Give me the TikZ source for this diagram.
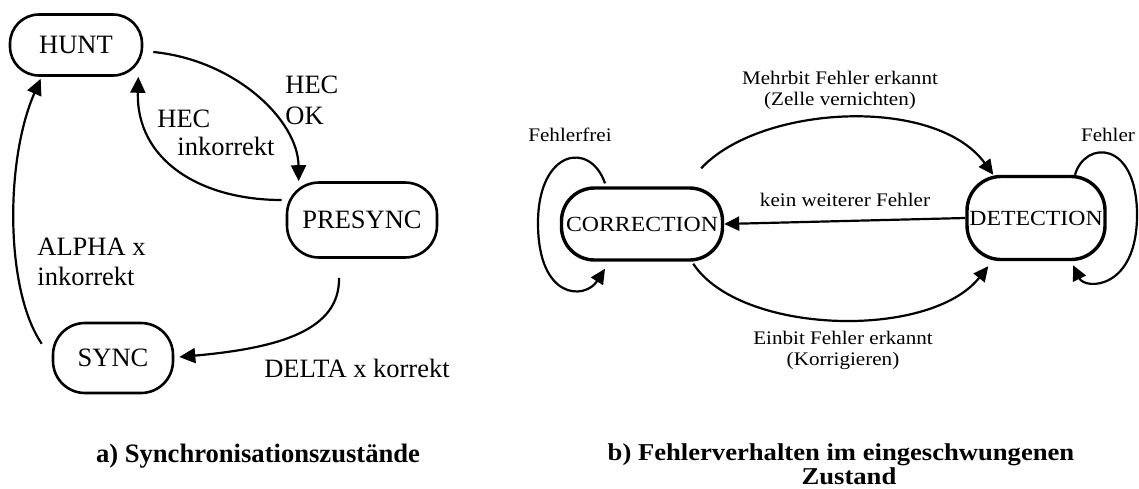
\documentclass[tikz,border=0pt]{standalone}
\usepackage{fontspec}
\setmainfont{Liberation Serif}
\newfontfamily\rfont[FakeStretch=1.1]{Liberation Serif}
\usetikzlibrary{arrows.meta,calc}
\begin{document}
\begin{tikzpicture}[x=0.5pt,y=-0.5pt,
  lstate/.style={draw,line width=1.3pt,inner sep=0pt,font=\fontsize{13.25}{15}\selectfont},
  rstate/.style={draw,line width=1.7pt,inner sep=0pt,font=\rfont\fontsize{10.8}{13}\selectfont},
  larrow/.style={line width=1.1pt,-{Triangle[length=8pt,width=7.5pt]}},
  rarrow/.style={line width=1.1pt,-{Triangle[length=7.5pt,width=7pt]}},
  llabel/.style={inner sep=0pt,font=\fontsize{13.25}{15}\selectfont,align=left},
  rlabel/.style={inner sep=0pt,font=\rfont\fontsize{9.6}{10.5}\selectfont,align=center},
  figcap/.style={inner sep=0pt,font=\bfseries\fontsize{13.3}{12.5}\selectfont,align=center}]
\useasboundingbox (0,0) rectangle (1139,488);
% left diagram
\node[lstate,rounded corners=14.5pt,minimum width=66pt,minimum height=30.5pt] (hunt) at (76,45) {HUNT};
\node[lstate,rounded corners=16pt,minimum width=75pt,minimum height=37.5pt] (presync) at (362,220) {PRESYNC};
\node[lstate,rounded corners=16pt,minimum width=60pt,minimum height=35pt] (sync) at (113,358) {SYNC};
\draw[larrow] ($(hunt.east)+(10,7)$) .. controls (235,60) and (298,120) .. ($(presync.north west)+(13,0)$);
\draw[larrow] ($(presync.west)+(-4,-20)$) .. controls (200,200) and (136,160) .. ($(hunt.south east)+(-5,0)$);
\draw[larrow] ($(sync.north west)+(-10,22)$) .. controls (5,290) and (5,160) .. ($(hunt.south west)+(32,2)$);
\draw[larrow] ($(presync.south)+(-23,19)$) .. controls (340,330) and (280,348) .. ($(sync.east)+(5,-1)$);
\node[llabel,anchor=west] (l1) at (285,100) {HEC\\[0.5pt]OK};
\node[llabel,anchor=west] (l2) at (157,133) {HEC\\[-1pt]\hspace*{10pt}inkorrekt};
\node[llabel,anchor=west] (l3) at (37,262) {ALPHA x\\inkorrekt};
\node[llabel] (l4) at (357,368) {DELTA x korrekt};
\node[figcap] (ca) at (258,456) {a) Synchronisationszustände};
% right diagram
\node[rstate,rounded corners=16.5pt,minimum width=80.5pt,minimum height=36pt] (corr) at (642,224) {CORRECTION};
\node[rstate,rounded corners=17pt,minimum width=69pt,minimum height=41.5pt] (det) at (1036,218) {DETECTION};
\draw[rarrow] ($(corr.north)+(-37,-3)$) .. controls (590,140) and (538,150) .. (538,223) .. controls (538,300) and (585,300) .. ($(corr.south)+(-37,7)$);
\draw[rarrow] ($(det.north)+(39,0)$) .. controls (1085,140) and (1137,140) .. (1137,215) .. controls (1137,290) and (1085,290) .. ($(det.south)+(37,4)$);
\draw[rarrow] ($(corr.north east)+(-23,-18)$) .. controls (760,105) and (935,95) .. ($(det.north west)+(28,0)$);
\draw[rarrow] ($(corr.south east)+(-31,2)$) .. controls (740,335) and (930,340) .. ($(det.south west)+(23,5)$);
\draw[rarrow] (det.west) -- (corr.east);
\node[rlabel] (l5) at (570,135) {Fehlerfrei};
\node[rlabel] (l6) at (1108,135) {Fehler};
\node[rlabel] (l7) at (840,90) {Mehrbit Fehler erkannt\\(Zelle vernichten)};
\node[rlabel] (l8) at (845,200) {kein weiterer Fehler};
\node[rlabel] (l9) at (843,350) {Einbit Fehler erkannt\\(Korrigieren)};
\node[figcap,font=\rfont\bfseries\fontsize{12.1}{12}\selectfont] (cb) at (841,464) {b) Fehlerverhalten im eingeschwungenen\\\hspace*{8pt}Zustand};
\end{tikzpicture}
\end{document}
